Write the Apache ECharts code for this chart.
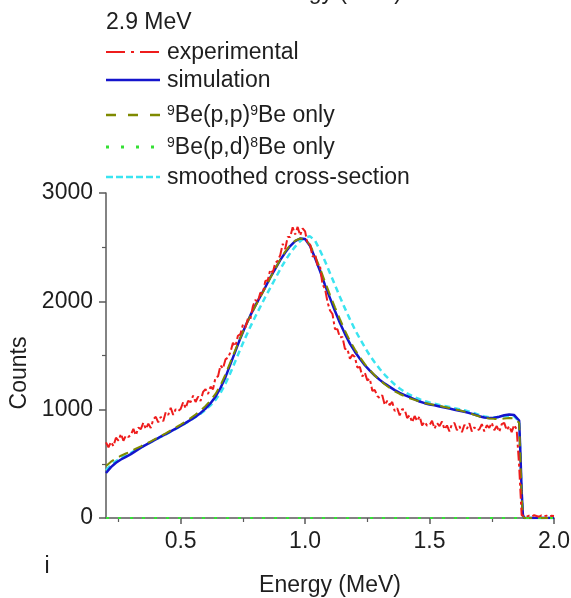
<!DOCTYPE html>
<html>
<head>
<meta charset="utf-8">
<script src="https://cdn.jsdelivr.net/npm/echarts@6/dist/echarts.min.js"></script>
<style>
html,body{margin:0;padding:0;background:#fff;}
#chart{width:571px;height:598px;}
</style>
</head>
<body>
<div id="chart"></div>
<script>
// ---------- DATA ----------
const xTickValues = [0.5, 1.0, 1.5, 2.0];
const xMinorTickValues = [0.25, 0.75, 1.25, 1.75];

const expEnergy = [
0.20,0.21,0.22,0.23,0.24,0.25,0.26,0.27,0.28,0.29,
0.30,0.31,0.32,0.33,0.34,0.35,0.36,0.37,0.38,0.39,
0.40,0.41,0.42,0.43,0.44,0.45,0.46,0.47,0.48,0.49,
0.50,0.51,0.52,0.53,0.54,0.55,0.56,0.57,0.58,0.59,
0.60,0.61,0.62,0.63,0.64,0.65,0.66,0.67,0.68,0.69,
0.70,0.71,0.72,0.73,0.74,0.75,0.76,0.77,0.78,0.79,
0.80,0.81,0.82,0.83,0.84,0.85,0.86,0.87,0.88,0.89,
0.90,0.91,0.92,0.93,0.94,0.95,0.96,0.97,0.98,0.99,
1.00,1.01,1.02,1.03,1.04,1.05,1.06,1.07,1.08,1.09,
1.10,1.11,1.12,1.13,1.14,1.15,1.16,1.17,1.18,1.19,
1.20,1.21,1.22,1.23,1.24,1.25,1.26,1.27,1.28,1.29,
1.30,1.31,1.32,1.33,1.34,1.35,1.36,1.37,1.38,1.39,
1.40,1.41,1.42,1.43,1.44,1.45,1.46,1.47,1.48,1.49,
1.50,1.51,1.52,1.53,1.54,1.55,1.56,1.57,1.58,1.59,
1.60,1.61,1.62,1.63,1.64,1.65,1.66,1.67,1.68,1.69,
1.70,1.71,1.72,1.73,1.74,1.75,1.76,1.77,1.78,1.79,
1.80,1.81,1.82,1.83,1.84,1.85,1.86,1.87,1.88,1.89,
1.90,1.91,1.92,1.93,1.94,1.95,1.96,1.97,1.98,1.99,2.00
];
const expCounts = [
698,653,702,664,741,714,776,713,762,748,
767,823,764,834,821,879,821,871,830,911,
934,883,934,894,977,952,1016,952,1004,988,
1007,1069,1012,1082,1070,1129,1071,1121,1081,1164,
1190,1145,1212,1189,1297,1307,1409,1379,1464,1480,
1530,1618,1586,1682,1697,1783,1756,1839,1834,1954,
2013,1995,2080,2071,2187,2194,2292,2265,2354,2376,
2425,2531,2483,2594,2593,2683,2617,2687,2608,2674,
2646,2528,2524,2411,2435,2330,2323,2155,2117,1994,
1915,1883,1744,1742,1667,1671,1561,1561,1471,1506,
1486,1388,1394,1307,1341,1270,1286,1175,1181,1126,
1107,1133,1044,1082,1041,1071,987,1013,948,1004,
1002,923,948,883,941,895,939,855,887,853,
855,898,825,877,848,891,818,854,799,867,
877,810,847,792,861,823,875,798,837,810,
818,867,799,856,832,879,810,849,796,866,
878,811,848,793,859,817,480,25,20,12,
22,15,25,18,12,24,16,22,14,20,18
];

const simEnergy = [
0.20,0.22,0.24,0.26,0.28,0.30,0.32,0.34,0.36,0.38,
0.40,0.42,0.44,0.46,0.48,0.50,0.52,0.54,0.56,0.58,
0.60,0.62,0.64,0.66,0.68,0.70,0.72,0.74,0.76,0.78,
0.80,0.82,0.84,0.86,0.88,0.90,0.92,0.94,0.96,0.98,
1.00,1.02,1.04,1.06,1.08,1.10,1.12,1.14,1.16,1.18,
1.20,1.22,1.24,1.26,1.28,1.30,1.32,1.34,1.36,1.38,
1.40,1.42,1.44,1.46,1.48,1.50,1.52,1.54,1.56,1.58,
1.60,1.62,1.64,1.66,1.68,1.70,1.72,1.74,1.76,1.78,
1.80,1.82,1.84,1.86,1.865,1.87,1.875,1.88,2.00
];
const simulationCounts = [
415,470,510,540,565,590,620,650,675,700,
725,752,775,800,825,850,878,906,935,970,
1010,1060,1120,1200,1300,1420,1540,1660,1770,1870,
1960,2045,2130,2220,2300,2380,2450,2510,2555,2580,
2575,2510,2400,2280,2150,2030,1910,1800,1700,1610,
1535,1470,1410,1360,1315,1275,1240,1210,1180,1155,
1135,1115,1095,1075,1060,1048,1040,1030,1020,1010,
1000,990,980,968,955,940,928,922,925,935,
948,955,950,900,600,250,30,0,0
];
const beppCounts = [
480,520,550,575,595,615,640,662,685,708,
732,757,782,808,835,862,892,922,955,992,
1035,1085,1145,1225,1325,1440,1555,1665,1770,1865,
1955,2040,2125,2215,2300,2385,2460,2520,2560,2580,
2570,2520,2420,2305,2180,2060,1945,1835,1730,1635,
1555,1485,1420,1365,1315,1272,1235,1200,1170,1145,
1125,1105,1090,1075,1062,1052,1043,1035,1025,1015,
1005,995,982,968,952,937,925,918,915,915,
918,922,920,880,550,200,20,0,0
];
const smoothedCounts = [
440,490,525,553,578,602,628,652,676,700,
724,748,772,797,822,848,875,903,932,963,
998,1040,1090,1155,1240,1340,1450,1560,1665,1765,
1860,1950,2040,2125,2210,2295,2375,2445,2505,2555,
2590,2600,2560,2470,2370,2260,2150,2040,1935,1835,
1740,1655,1575,1500,1435,1375,1322,1275,1232,1195,
1165,1138,1115,1096,1080,1066,1054,1044,1034,1024,
1014,1004,994,982,968,952,938,930,928,932,
940,945,940,890,560,220,20,0,0
];
const bepdEnergy = [0.20, 1.00, 1.87, 2.00];
const bepdCounts = [0, 0, 0, 0];

// ---------- STYLE ----------
const FONT = '"Liberation Sans", Arial, sans-serif';
const TXT = '#1e1e1e';
const AX = '#5a5a5a';
const C_RED = '#ee1c1c', C_BLUE = '#1414cc', C_OLIVE = '#7f8a00', C_GREEN = '#35e035', C_CYAN = '#3ae4f0';

function zip(xs, ys) { return xs.map((x, i) => [x, ys[i]]); }

const chart = echarts.init(document.getElementById('chart'), null, {renderer: 'canvas'});

const legendRows = [
  {y: 52, color: C_RED, dash: [19, 6, 3, 6], width: 2, text: 'experimental'},
  {y: 80, color: C_BLUE, dash: null, width: 2.5, text: 'simulation'},
  {y: 115, color: C_OLIVE, dash: [10, 12], width: 2.5, text: '{sup|9}Be(p,p){sup|9}Be only'},
  {y: 147, color: C_GREEN, dash: [3, 12], width: 3, text: '{sup|9}Be(p,d){sup|8}Be only'},
  {y: 177, color: C_CYAN, dash: [7, 3], width: 2.5, text: 'smoothed cross-section'}
];
const graphics = [
  {type: 'text', x: 331, y: -7, style: {text: 'Energy (MeV)', fill: TXT, font: '23px ' + FONT, align: 'center', verticalAlign: 'middle'}},
  {type: 'text', x: 106, y: 23, style: {text: '2.9 MeV', fill: TXT, font: '23px ' + FONT, align: 'left', verticalAlign: 'middle'}},
  {type: 'text', x: 47, y: 567, style: {text: 'i', fill: TXT, font: '23px ' + FONT, align: 'center', verticalAlign: 'middle'}},
  {type: 'text', x: 20, y: 373, rotation: Math.PI / 2, style: {text: 'Counts', fill: TXT, font: '23px ' + FONT, align: 'center', verticalAlign: 'middle'}}
];
legendRows.forEach(r => {
  graphics.push({type: 'line', shape: {x1: 106, y1: r.y, x2: 160, y2: r.y},
    style: {stroke: r.color, lineWidth: r.width, lineDash: r.dash || null}});
  graphics.push({type: 'text', x: 167, y: r.y + 1, style: {
    text: r.text, fill: TXT, font: '23px ' + FONT, align: 'left', verticalAlign: 'middle',
    rich: {sup: {fontSize: 14, fontFamily: FONT, fill: TXT, verticalAlign: 'top', lineHeight: 24}}
  }});
});

const option = {
  animation: false,
  backgroundColor: '#fff',
  textStyle: {fontFamily: FONT},
  grid: {left: 106, right: 17, top: 193, bottom: 80, containLabel: false, outerBoundsMode: 'none'},
  xAxis: [{
    type: 'value', min: 0.2, max: 2.0,
    name: 'Energy (MeV)', nameLocation: 'middle', nameGap: 56,
    nameTextStyle: {fontSize: 23, color: TXT, fontFamily: FONT},
    axisLine: {show: true, lineStyle: {color: AX, width: 1.5}},
    axisTick: {show: true, inside: false, length: 6, lineStyle: {color: AX, width: 1.5}, customValues: xTickValues},
    axisLabel: {fontSize: 23, color: TXT, margin: 12, fontFamily: FONT, customValues: xTickValues,
      formatter: v => v.toFixed(1)},
    splitLine: {show: false}
  }, {
    type: 'value', min: 0.2, max: 2.0, position: 'bottom', gridIndex: 0,
    axisLine: {show: false},
    axisTick: {show: true, inside: false, length: 4, lineStyle: {color: AX, width: 1.2}, customValues: xMinorTickValues},
    axisLabel: {show: false},
    splitLine: {show: false}
  }],
  yAxis: {
    type: 'value', min: 0, max: 3000, interval: 1000,
    axisLine: {show: true, lineStyle: {color: AX, width: 1.5}},
    axisTick: {show: true, inside: false, length: 7, lineStyle: {color: AX, width: 1.5}},
    minorTick: {show: true, splitNumber: 2, length: 4, lineStyle: {color: AX, width: 1.2}},
    axisLabel: {fontSize: 23, color: TXT, margin: 13, fontFamily: FONT, formatter: v => String(v)},
    splitLine: {show: false}
  },
  graphic: graphics,
  series: [
    {name: 'smoothed cross-section', type: 'line', showSymbol: false, z: 2,
      data: zip(simEnergy, smoothedCounts),
      lineStyle: {color: C_CYAN, width: 2.5, type: [6, 4]}},
    {name: 'simulation', type: 'line', showSymbol: false, z: 3,
      data: zip(simEnergy, simulationCounts),
      lineStyle: {color: C_BLUE, width: 2.5, type: 'solid'}},
    {name: '9Be(p,p)9Be only', type: 'line', showSymbol: false, z: 4,
      data: zip(simEnergy, beppCounts),
      lineStyle: {color: C_OLIVE, width: 2, type: [10, 6]}},
    {name: '9Be(p,d)8Be only', type: 'line', showSymbol: false, z: 5,
      data: zip(bepdEnergy, bepdCounts),
      lineStyle: {color: C_GREEN, width: 2, type: [3, 9]}},
    {name: 'experimental', type: 'line', showSymbol: false, z: 6,
      data: zip(expEnergy, expCounts),
      lineStyle: {color: C_RED, width: 2, type: [10, 3, 3, 3]}}
  ]
};
chart.setOption(option);
</script>
</body>
</html>
